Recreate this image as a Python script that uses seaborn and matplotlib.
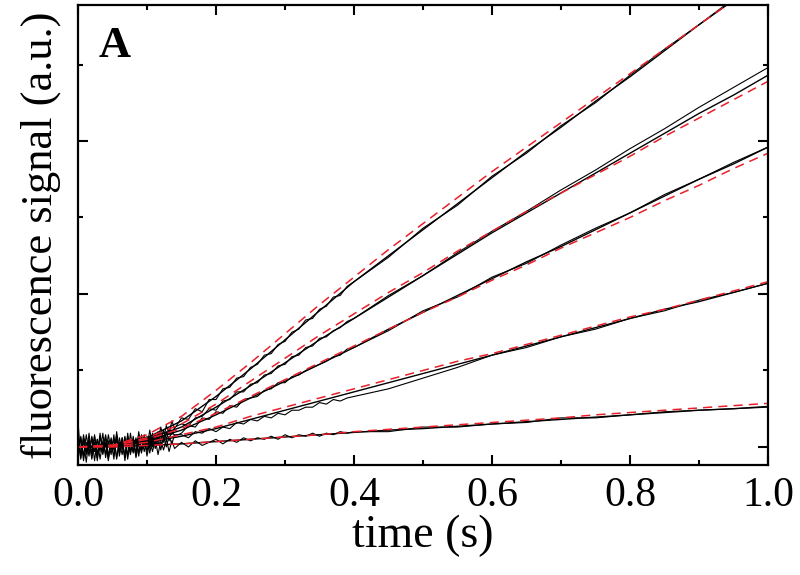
import numpy as np
import matplotlib
matplotlib.use('Agg')
import matplotlib.pyplot as plt
from matplotlib.ticker import MultipleLocator, NullFormatter
import seaborn as sns

# tempos (s)
t_early = np.linspace(0, 0.14, 36)
t_mid = np.linspace(0.15, 0.40, 26)
t_late = np.linspace(0.45, 1.0, 12)
t_fit = np.linspace(0, 1.0, 21)

early1 = [0.17, -0.08, 0.06, -0.05, 0.09, -0.07, 0.03, -0.09, 0.07, -0.02, 0.08, -0.06,
          0.05, -0.08, 0.10, -0.03, 0.06, -0.07, 0.09, -0.04, 0.07, -0.05, 0.10, -0.02,
          0.08, 0.00, 0.11, 0.01, 0.09, 0.04, 0.13, 0.05, 0.14, 0.08, 0.17, 0.12]
early2 = [-0.10, 0.07, -0.06, 0.08, -0.04, 0.06, -0.09, 0.05, -0.03, 0.09, -0.07, 0.04,
          -0.05, 0.08, -0.08, 0.06, -0.02, 0.07, -0.06, 0.09, -0.03, 0.06, -0.04, 0.08,
          0.00, 0.07, -0.01, 0.09, 0.02, 0.10, 0.04, 0.11, 0.05, 0.12, 0.08, 0.13]
early3 = [0.05, -0.07, 0.08, -0.03, 0.04, -0.08, 0.07, -0.05, 0.09, -0.04, 0.03, -0.09,
          0.06, -0.02, 0.08, -0.06, 0.04, -0.07, 0.07, -0.03, 0.05, -0.06, 0.08, -0.02,
          0.06, -0.03, 0.07, 0.00, 0.08, 0.01, 0.09, 0.03, 0.10, 0.04, 0.11, 0.07]
early4 = [-0.04, 0.06, -0.09, 0.03, -0.06, 0.07, -0.03, 0.05, -0.08, 0.04, -0.05, 0.08,
          -0.02, 0.05, -0.07, 0.03, -0.05, 0.06, -0.08, 0.04, -0.04, 0.05, -0.06, 0.06,
          -0.03, 0.05, -0.04, 0.06, -0.01, 0.06, -0.02, 0.07, 0.00, 0.07, 0.02, 0.08]
early5 = [0.08, -0.05, 0.04, -0.10, 0.06, -0.04, 0.08, -0.07, 0.02, -0.05, 0.07, -0.08,
          0.03, -0.06, 0.05, -0.04, 0.06, -0.09, 0.04, -0.05, 0.05, -0.07, 0.03, -0.04,
          0.05, -0.06, 0.04, -0.03, 0.05, -0.05, 0.04, -0.02, 0.05, -0.03, 0.04, -0.01]

mid1 = [0.19, 0.18, 0.25, 0.23, 0.31, 0.31, 0.38, 0.39, 0.45, 0.46, 0.52, 0.54, 0.60,
        0.61, 0.67, 0.69, 0.75, 0.77, 0.83, 0.84, 0.90, 0.92, 0.98, 0.99, 1.05, 1.08]
mid2 = [0.15, 0.14, 0.19, 0.20, 0.25, 0.24, 0.30, 0.31, 0.36, 0.36, 0.41, 0.42, 0.47,
        0.48, 0.53, 0.54, 0.59, 0.60, 0.65, 0.66, 0.71, 0.72, 0.76, 0.78, 0.82, 0.84]
mid3 = [0.09, 0.14, 0.13, 0.19, 0.18, 0.23, 0.22, 0.27, 0.26, 0.31, 0.32, 0.33, 0.37,
        0.38, 0.42, 0.42, 0.46, 0.47, 0.50, 0.52, 0.54, 0.56, 0.59, 0.60, 0.64, 0.65]
mid4 = [0.08, 0.06, 0.10, 0.09, 0.12, 0.10, 0.13, 0.12, 0.16, 0.15, 0.18, 0.17, 0.20,
        0.19, 0.22, 0.21, 0.24, 0.24, 0.26, 0.26, 0.29, 0.28, 0.31, 0.30, 0.32, 0.33]
mid5 = [0.03, 0.00, 0.04, 0.01, 0.03, 0.05, 0.02, 0.05, 0.03, 0.06, 0.04, 0.06, 0.05,
        0.07, 0.05, 0.08, 0.06, 0.08, 0.07, 0.09, 0.07, 0.09, 0.08, 0.10, 0.09, 0.10]

late1 = [1.24, 1.43, 1.58, 1.77, 1.92, 2.10, 2.25, 2.43, 2.60, 2.76, 2.93, 3.09]
late2 = [0.99, 1.12, 1.27, 1.41, 1.54, 1.68, 1.81, 1.95, 2.08, 2.22, 2.35, 2.48]
late3 = [0.76, 0.89, 0.98, 1.11, 1.20, 1.32, 1.43, 1.53, 1.65, 1.75, 1.86, 1.96]
late4 = [0.38, 0.45, 0.52, 0.60, 0.65, 0.72, 0.77, 0.84, 0.89, 0.96, 1.01, 1.07]
late5 = [0.10, 0.13, 0.13, 0.15, 0.16, 0.19, 0.19, 0.21, 0.23, 0.24, 0.25, 0.26]

# ajustes (linha preta continua)
fit1 = [0, 0.01, 0.06, 0.17, 0.33, 0.51, 0.70, 0.89, 1.08, 1.25, 1.42, 1.59, 1.76, 1.93, 2.09, 2.26, 2.42, 2.59, 2.76, 2.92, 3.09]
fit2 = [0, 0.01, 0.05, 0.13, 0.26, 0.40, 0.55, 0.70, 0.84, 0.98, 1.12, 1.26, 1.40, 1.53, 1.66, 1.79, 1.92, 2.05, 2.18, 2.30, 2.43]
fit3 = [0, 0.01, 0.04, 0.11, 0.21, 0.32, 0.43, 0.54, 0.65, 0.77, 0.88, 0.99, 1.10, 1.21, 1.31, 1.42, 1.53, 1.64, 1.75, 1.85, 1.96]
fit4 = [0, 0.005, 0.03, 0.07, 0.12, 0.18, 0.24, 0.30, 0.36, 0.42, 0.48, 0.54, 0.60, 0.66, 0.72, 0.78, 0.84, 0.90, 0.95, 1.01, 1.07]
fit5 = [0, 0.0, 0.01, 0.02, 0.035, 0.05, 0.065, 0.08, 0.095, 0.11, 0.12, 0.135, 0.15, 0.165, 0.18, 0.195, 0.21, 0.225, 0.24, 0.25, 0.265]

# ajustes alternativos (tracejado vermelho)
red1 = [0, 0.01, 0.08, 0.20, 0.37, 0.55, 0.74, 0.93, 1.11, 1.29, 1.46, 1.63, 1.80, 1.96, 2.12, 2.28, 2.44, 2.60, 2.76, 2.92, 3.08]
red2 = [0, 0.01, 0.06, 0.15, 0.28, 0.43, 0.58, 0.73, 0.87, 1.01, 1.14, 1.28, 1.41, 1.54, 1.66, 1.78, 1.90, 2.03, 2.15, 2.27, 2.39]
red3 = [0, 0.01, 0.05, 0.12, 0.22, 0.33, 0.44, 0.55, 0.66, 0.77, 0.88, 0.98, 1.09, 1.19, 1.30, 1.40, 1.50, 1.61, 1.71, 1.82, 1.92]
red4 = [0, 0.005, 0.03, 0.08, 0.13, 0.20, 0.26, 0.32, 0.38, 0.44, 0.50, 0.56, 0.61, 0.67, 0.73, 0.79, 0.85, 0.90, 0.96, 1.02, 1.08]
red5 = [0, 0.0, 0.01, 0.02, 0.035, 0.05, 0.065, 0.08, 0.10, 0.115, 0.13, 0.145, 0.16, 0.175, 0.19, 0.21, 0.225, 0.24, 0.255, 0.27, 0.285]

traces = [early1 + mid1 + late1, early2 + mid2 + late2, early3 + mid3 + late3,
          early4 + mid4 + late4, early5 + mid5 + late5]
fits = [fit1, fit2, fit3, fit4, fit5]
reds = [red1, red2, red3, red4, red5]
t_data = np.concatenate([t_early, t_mid, t_late])

sns.set_theme(style='ticks')
plt.rcParams['font.family'] = ['Liberation Serif', 'DejaVu Serif']
plt.rcParams['text.color'] = 'black'
plt.rcParams['axes.labelcolor'] = 'black'

fig = plt.figure(figsize=(8, 5.75), dpi=100)
ax = fig.add_axes([0.0975, 0.1913, 0.8625, 0.80])

for y in traces:
    sns.lineplot(x=t_data, y=y, ax=ax, color='black', lw=0.8, estimator=None, sort=False)
for y in fits:
    sns.lineplot(x=t_fit, y=y, ax=ax, color='black', lw=1.0, estimator=None, sort=False)
for y in reds:
    sns.lineplot(x=t_fit, y=y, ax=ax, color='#e8202a', lw=1.1, estimator=None, sort=False,
                 linestyle=(0, (6, 4)))

ax.set_xlim(0, 1.0)
ax.set_ylim(-0.118, 2.889)
ax.xaxis.set_major_locator(MultipleLocator(0.2))
ax.xaxis.set_minor_locator(MultipleLocator(0.1))
ax.yaxis.set_major_locator(MultipleLocator(1))
ax.yaxis.set_minor_locator(MultipleLocator(0.5))
ax.yaxis.set_major_formatter(NullFormatter())
ax.tick_params(which='both', direction='in', top=True, right=True, width=1.5,
               colors='black', labelcolor='black')
ax.tick_params(which='major', length=7, labelsize=30, pad=8)
ax.tick_params(which='minor', length=3.5)
for s in ax.spines.values():
    s.set_linewidth(1.6)
    s.set_color('black')

ax.set_xlabel('time (s)', fontsize=33, labelpad=0)
ax.set_ylabel('fluorescence signal (a.u.)', fontsize=32, labelpad=4)
ax.text(0.03, 0.955, 'A', transform=ax.transAxes, fontsize=32, fontweight='bold', va='top')

fig.savefig('out.png', dpi=100)
